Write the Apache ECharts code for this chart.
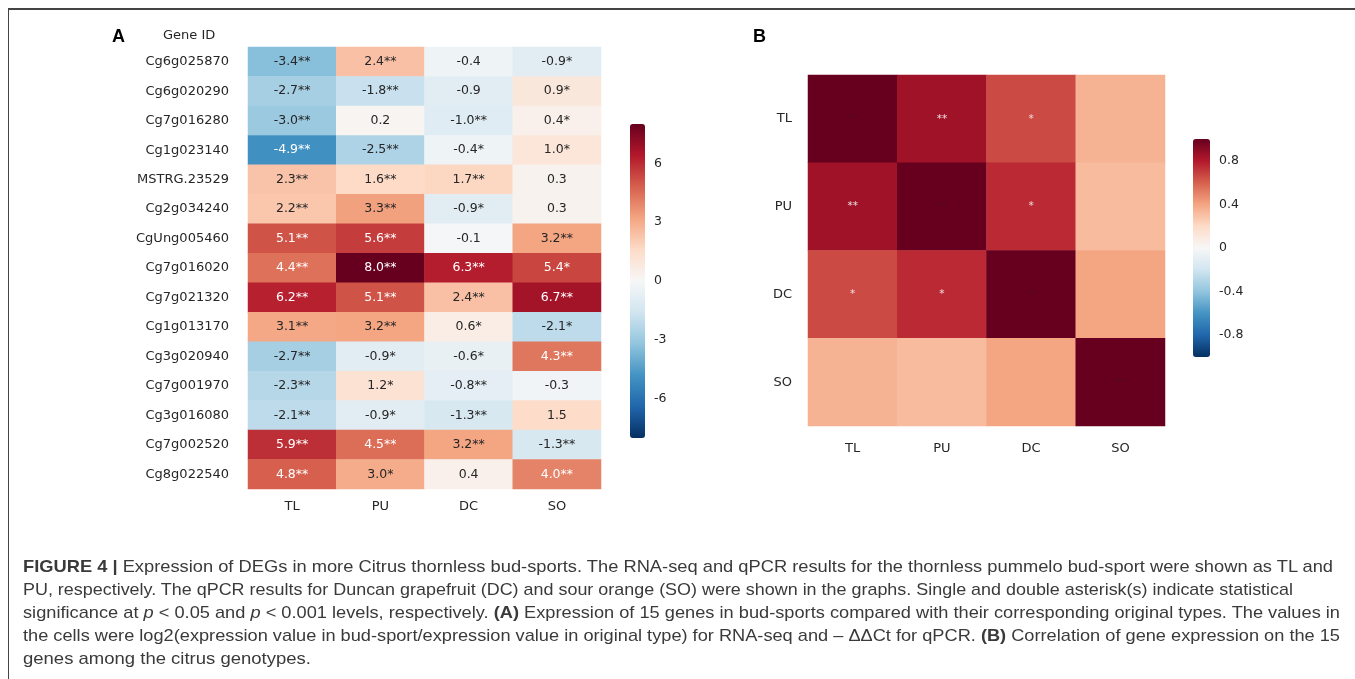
<!DOCTYPE html>
<html>
<head>
<meta charset="utf-8">
<script src="https://cdn.jsdelivr.net/npm/echarts@6/dist/echarts.min.js"></script>
<style>
html,body{margin:0;padding:0;background:#fff;}
#wrap{position:relative;width:1355px;height:679px;overflow:hidden;}
#chart{position:absolute;left:0;top:0;width:1355px;height:679px;}
#frame{position:absolute;left:8px;top:8px;width:1360px;height:700px;border-left:1.5px solid #444;border-top:2px solid #444;box-sizing:border-box;pointer-events:none;}
#caption{position:absolute;left:23px;top:557px;color:#3a3a3a;font-family:"Liberation Sans Narrow","Liberation Sans",Arial,sans-serif;font-size:17px;}
#caption .ln{position:absolute;left:0;white-space:nowrap;transform-origin:0 0;}
</style>
</head>
<body>
<div id="wrap">
<div id="chart"></div>
<div id="frame"></div>
<div id="caption">
<div class="ln" data-w="1310" style="top:0px"><b>FIGURE 4 |</b> Expression of DEGs in more Citrus thornless bud-sports. The RNA-seq and qPCR results for the thornless pummelo bud-sport were shown as TL and</div>
<div class="ln" data-w="1270" style="top:23px">PU, respectively. The qPCR results for Duncan grapefruit (DC) and sour orange (SO) were shown in the graphs. Single and double asterisk(s) indicate statistical</div>
<div class="ln" data-w="1317" style="top:46px">significance at <i>p</i> &lt; 0.05 and <i>p</i> &lt; 0.001 levels, respectively. <b>(A)</b> Expression of 15 genes in bud-sports compared with their corresponding original types. The values in</div>
<div class="ln" data-w="1317" style="top:69px">the cells were log2(expression value in bud-sport/expression value in original type) for RNA-seq and – ΔΔCt for qPCR. <b>(B)</b> Correlation of gene expression on the 15</div>
<div class="ln" data-w="288" style="top:92px">genes among the citrus genotypes.</div>
</div>
</div>
<script>
// ---------- data ----------
const genes = ['Cg6g025870','Cg6g020290','Cg7g016280','Cg1g023140','MSTRG.23529','Cg2g034240','CgUng005460','Cg7g016020','Cg7g021320','Cg1g013170','Cg3g020940','Cg7g001970','Cg3g016080','Cg7g002520','Cg8g022540'];
const samples = ['TL','PU','DC','SO'];
const tlVals = [-3.4,-2.7,-3.0,-4.9,2.3,2.2,5.1,4.4,6.2,3.1,-2.7,-2.3,-2.1,5.9,4.8];
const puVals = [2.4,-1.8,0.2,-2.5,1.6,3.3,5.6,8.0,5.1,3.2,-0.9,1.2,-0.9,4.5,3.0];
const dcVals = [-0.4,-0.9,-1.0,-0.4,1.7,-0.9,-0.1,6.3,2.4,0.6,-0.6,-0.8,-1.3,3.2,0.4];
const soVals = [-0.9,0.9,0.4,1.0,0.3,0.3,3.2,5.4,6.7,-2.1,4.3,-0.3,1.5,-1.3,4.0];
const tlSig = ['**','**','**','**','**','**','**','**','**','**','**','**','**','**','**'];
const puSig = ['**','**','','**','**','**','**','**','**','**','*','*','*','**','*'];
const dcSig = ['','','**','*','**','*','','**','**','*','*','**','**','**',''];
const soSig = ['*','*','*','*','','','**','*','**','*','**','','','**','**'];
const exprTicks = [-6,-3,0,3,6];

const corrTL = [1.00,0.85,0.66,0.35];
const corrPU = [0.85,1.00,0.75,0.32];
const corrDC = [0.66,0.75,1.00,0.40];
const corrSO = [0.35,0.32,0.40,1.00];
const corrSigTL = ['**','**','*',''];
const corrSigPU = ['**','**','*',''];
const corrSigDC = ['*','*','**',''];
const corrSigSO = ['','','','**'];
const corrTicks = [-0.8,-0.4,0,0.4,0.8];

// ---------- build ----------
const rdbu = ['#053061','#2166ac','#4393c3','#92c5de','#d1e5f0','#f7f7f7','#fddbc7','#f4a582','#d6604d','#b2182b','#67001f'];
const exprCols = [tlVals,puVals,dcVals,soVals];
const sigCols = [tlSig,puSig,dcSig,soSig];
const exprData = [];
exprCols.forEach((col,x)=>col.forEach((v,y)=>{
  exprData.push({value:[x,y,v], star:sigCols[x][y],
    label:{color: Math.abs(v)>=4 ? '#ffffff' : '#262626'}});
}));
const corrRows = [corrTL,corrPU,corrDC,corrSO];
const corrSig = [corrSigTL,corrSigPU,corrSigDC,corrSigSO];
const corrData = [];
corrRows.forEach((row,y)=>row.forEach((v,x)=>{
  corrData.push({value:[x,y,v], star:corrSig[y][x],
    label:{color: x===y ? '#5a0a1c' : '#f0e0e0'}});
}));

const F = 'DejaVu Sans';
const chart = echarts.init(document.getElementById('chart'), null, {renderer:'canvas'});
chart.setOption({
  animation:false,
  textStyle:{fontFamily:F},
  grid:[
    {left:248, top:47, width:353, height:442},
    {left:808, top:75, width:357, height:351},
    {left:630, top:124, width:15, height:314},
    {left:1193, top:139, width:17, height:218}
  ],
  xAxis:[
    {gridIndex:0, type:'category', data:samples, position:'bottom',
     axisLine:{show:false}, axisTick:{show:false}, splitLine:{show:false},
     axisLabel:{margin:11, fontSize:13, color:'#262626', fontFamily:F}},
    {gridIndex:1, type:'category', data:samples, position:'bottom',
     axisLine:{show:false}, axisTick:{show:false}, splitLine:{show:false},
     axisLabel:{margin:16, fontSize:13, color:'#262626', fontFamily:F}},
    {gridIndex:2, type:'value', show:false},
    {gridIndex:3, type:'value', show:false}
  ],
  yAxis:[
    {gridIndex:0, type:'category', data:genes, inverse:true,
     axisLine:{show:false}, axisTick:{show:false}, splitLine:{show:false},
     axisLabel:{margin:19, fontSize:13, color:'#262626', fontFamily:F}},
    {gridIndex:1, type:'category', data:samples, inverse:true,
     axisLine:{show:false}, axisTick:{show:false}, splitLine:{show:false},
     axisLabel:{margin:16, fontSize:13, color:'#262626', fontFamily:F}},
    {gridIndex:2, type:'value', min:-8, max:8, position:'right',
     axisLine:{show:false}, splitLine:{show:false},
     axisTick:{show:true, length:5, lineStyle:{color:'#333'}, customValues:exprTicks},
     axisLabel:{margin:9, fontSize:12.5, color:'#262626', fontFamily:F, customValues:exprTicks}},
    {gridIndex:3, type:'value', min:-1, max:1, position:'right',
     axisLine:{show:false}, splitLine:{show:false},
     axisTick:{show:true, length:5, lineStyle:{color:'#333'}, customValues:corrTicks},
     axisLabel:{margin:9, fontSize:12.5, color:'#262626', fontFamily:F, customValues:corrTicks,
       formatter:v=>String(Math.round(v*10)/10)}}
  ],
  visualMap:[
    {type:'continuous', seriesIndex:0, min:-8, max:8, dimension:2, calculable:false,
     orient:'vertical', left:630, top:124, itemWidth:15, itemHeight:314, padding:0,
     text:null, showLabel:false, hoverLink:false, inRange:{color:rdbu}},
    {type:'continuous', seriesIndex:1, min:-1, max:1, dimension:2, calculable:false,
     orient:'vertical', left:1193, top:139, itemWidth:17, itemHeight:218, padding:0,
     text:null, showLabel:false, hoverLink:false, inRange:{color:rdbu}}
  ],
  series:[
    {type:'heatmap', xAxisIndex:0, yAxisIndex:0, data:exprData,
     label:{show:true, fontSize:12.5, fontFamily:F,
       formatter:p=>p.value[2].toFixed(1)+p.data.star},
     emphasis:{disabled:true}},
    {type:'heatmap', xAxisIndex:1, yAxisIndex:1, data:corrData,
     label:{show:true, fontSize:10.5, fontFamily:F,
       formatter:p=>p.data.star},
     emphasis:{disabled:true}}
  ],
  graphic:[
    {type:'text', left:112, top:28, style:{text:'A', font:'bold 18px "Liberation Sans", Arial', fill:'#000'}},
    {type:'text', left:163, top:29, style:{text:'Gene ID', font:'13px "DejaVu Sans"', fill:'#262626'}},
    {type:'text', left:753, top:28, style:{text:'B', font:'bold 18px "Liberation Sans", Arial', fill:'#000'}}
  ]
});

// fit caption lines to their widths
document.querySelectorAll('#caption .ln').forEach(el=>{
  const w = el.getBoundingClientRect().width;
  const target = +el.dataset.w;
  el.style.transform = 'scaleX(' + (target/w) + ')';
});
</script>
</body>
</html>
